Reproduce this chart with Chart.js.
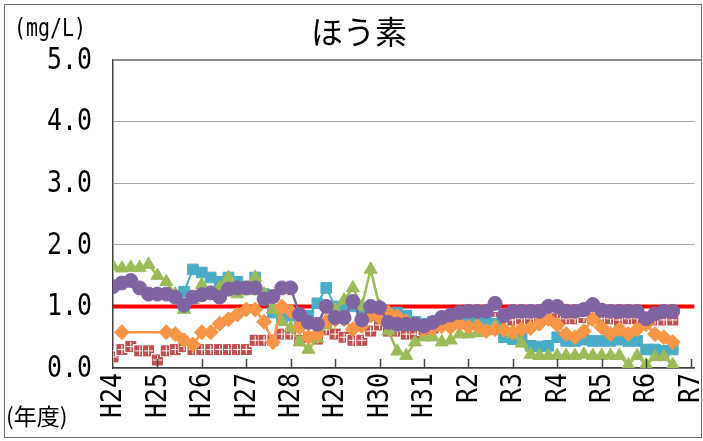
<!DOCTYPE html>
<html><head><meta charset="utf-8">
<script src="https://cdn.jsdelivr.net/npm/chart.js@4.4.1/dist/chart.umd.min.js"></script>
<style>html,body{margin:0;padding:0;background:#fff;}canvas{display:block;}</style>
</head><body>
<canvas id="c" width="703" height="441"></canvas>
<script>
// ---- data ----
const titleText = 'ほう素';
const unitText = '(mg/L)';
const xAxisTitle = '(年度)';
const yearLabels = ['H24','H25','H26','H27','H28','H29','H30','H31','R2','R3','R4','R5','R6','R7'];
const yTickLabels = ['0.0','1.0','2.0','3.0','4.0','5.0'];
const standardValue = 1.0;
const xMin = 0, xMax = 13.09, yMin = 0, yMax = 5;

// sampling times (years since start of H24)
const t = [0,0.2,0.4,0.6,0.8,1.0,1.2,1.4,1.6,1.8,2.0,2.2,2.4,2.6,2.8,3.0,3.2,3.4,3.6,3.8,
           4.0,4.2,4.4,4.6,4.8,5.0,5.2,5.4,5.6,5.8,6.0,6.2,6.4,6.6,6.8,7.0,7.2,7.4,7.6,7.8,
           8.0,8.2,8.4,8.6,8.8,9.0,9.2,9.4,9.6,9.8,10.0,10.2,10.4,10.6,10.8,11.0,11.2,11.4,11.6,11.8,
           12.0,12.2,12.4,12.6];

const seriesRed = [0.18,0.30,0.35,0.28,0.28,0.13,0.28,0.30,0.35,0.30,0.30,0.30,0.30,0.30,0.30,0.30,0.45,0.45,0.45,0.55,
                   0.55,0.45,0.50,0.47,0.62,0.55,0.50,0.45,0.45,0.60,0.70,0.60,0.60,0.55,0.55,0.62,0.65,0.72,0.75,0.80,
                   0.85,0.85,0.85,0.82,0.80,0.78,0.80,0.80,0.80,0.80,0.80,0.80,0.80,0.82,0.80,0.80,0.80,0.78,0.80,0.80,
                   0.75,0.78,0.78,0.78];
const seriesCyan = [null,null,null,null,null,null,null,null,1.24,1.60,1.55,1.47,1.40,1.47,1.40,1.32,1.47,1.20,0.90,0.80,
                    0.85,0.75,0.85,1.05,1.30,1.00,0.95,1.00,0.90,0.95,0.85,0.85,0.90,0.85,0.75,0.72,0.75,0.78,0.80,0.80,
                    0.78,0.78,0.79,0.72,0.50,0.47,0.50,0.36,0.35,0.36,0.50,0.44,0.44,0.46,0.44,0.44,0.44,0.46,0.44,0.44,
                    0.30,0.30,0.28,0.30];
const seriesGreen = [1.65,1.62,1.63,1.63,1.68,1.50,1.40,1.20,0.95,1.10,1.35,1.20,1.30,1.47,1.20,1.25,1.47,1.20,0.95,0.75,
                     0.65,0.42,0.30,0.48,0.70,0.95,1.10,1.30,1.00,1.60,1.00,0.60,0.27,0.20,0.42,0.50,0.50,0.42,0.45,0.55,
                     0.55,0.57,0.60,0.68,0.63,0.55,0.40,0.22,0.20,0.20,0.20,0.20,0.20,0.22,0.20,0.20,0.20,0.20,0.05,0.20,
                     0.05,0.18,0.18,0.05];
const seriesOrange = [null,0.58,null,null,null,null,0.58,0.55,0.45,0.38,0.58,0.58,0.72,0.79,0.87,0.95,0.95,0.75,0.42,1.00,
                      0.92,0.66,0.50,0.55,0.76,0.78,0.79,0.63,0.68,0.85,0.82,0.90,0.84,0.76,0.70,0.63,0.65,0.68,0.66,0.72,
                      0.67,0.68,0.60,0.63,0.62,0.58,0.63,0.65,0.72,0.80,0.70,0.55,0.50,0.60,0.79,0.66,0.55,0.63,0.55,0.63,
                      0.71,0.55,0.50,0.42];
const seriesPurple = [1.32,1.38,1.42,1.30,1.20,1.20,1.20,1.15,1.02,1.15,1.19,1.22,1.15,1.28,1.30,1.30,1.30,1.12,1.16,1.30,
                      1.30,0.87,0.74,0.71,1.00,0.82,0.82,1.08,0.78,1.00,0.98,0.74,0.71,0.71,0.71,0.68,0.74,0.82,0.86,0.90,
                      0.92,0.92,0.92,1.05,0.85,0.92,0.92,0.92,0.92,1.00,1.00,0.92,0.92,0.95,1.03,0.94,0.92,0.92,0.92,0.92,
                      0.80,0.88,0.92,0.92];

// ---- helpers ----
function pts(vals){ return t.map((x,i)=> vals[i]==null ? null : {x:x, y:vals[i]}).filter(p=>p); }
function makeRedMarker(){
  const c=document.createElement('canvas'); c.width=13; c.height=13;
  const g=c.getContext('2d');
  g.fillStyle='#ffffff'; g.fillRect(0,0,13,13);
  g.fillStyle='#C0504D'; g.fillRect(1,1,11,11);
  g.fillStyle='#ffffff'; g.fillRect(6,2,1,9); g.fillRect(2,6,9,1);
  return c;
}
function ds(label, vals, color, style, radius, order, width){
  return {label, data:pts(vals), borderColor:color, backgroundColor:color, borderWidth:width,
    pointStyle:style, pointRadius:radius, pointBorderColor:color, pointBackgroundColor:color,
    pointBorderWidth:1, tension:0, order:order, spanGaps:true};
}

const deco = {
  id:'deco',
  afterDraw(chart){
    const ctx=chart.ctx, xs=chart.scales.x, ys=chart.scales.y, a=chart.chartArea;
    ctx.save();
    // plot area top border
    ctx.strokeStyle='#8c8c8c'; ctx.lineWidth=2;
    ctx.beginPath(); ctx.moveTo(a.left, a.top); ctx.lineTo(701, a.top); ctx.stroke();
    // inward tick marks
    ctx.strokeStyle='#404040'; ctx.lineWidth=1.5;
    for(let k=1;k<yearLabels.length;k++){
      const px=Math.round(xs.getPixelForValue(k))+0.5;
      ctx.beginPath(); ctx.moveTo(px,a.bottom); ctx.lineTo(px,a.bottom-9); ctx.stroke();
    }
    ctx.fillStyle='#000';
    // y tick labels
    ctx.font='30px "DejaVu Sans Mono"'; ctx.textAlign='right'; ctx.textBaseline='middle';
    yTickLabels.forEach((lab,i)=>{
      const py=ys.getPixelForValue(i);
      ctx.save(); ctx.translate(92,py+1); ctx.scale(0.83,1); ctx.fillText(lab,0,0); ctx.restore();
    });
    // x tick labels (rotated)
    ctx.font='28px "DejaVu Sans Mono"';
    yearLabels.forEach((lab,k)=>{
      const px=xs.getPixelForValue(k);
      ctx.save(); ctx.translate(px+1,373); ctx.rotate(-Math.PI/2); ctx.scale(0.89,1);
      ctx.textAlign='right'; ctx.textBaseline='middle'; ctx.fillText(lab,0,0); ctx.restore();
    });
    // unit
    ctx.font='24px "DejaVu Sans Mono"'; ctx.textAlign='left'; ctx.textBaseline='middle';
    ctx.save(); ctx.translate(14,30); ctx.scale(0.83,1); ctx.fillText(unitText,0,0); ctx.restore();
    // x axis title
    ctx.font='23px "Noto Sans CJK JP"'; ctx.textAlign='left'; ctx.textBaseline='middle';
    ctx.fillText(xAxisTitle,6,416);
    // title
    ctx.font='32px "Noto Sans CJK JP"'; ctx.textAlign='center'; ctx.textBaseline='middle';
    ctx.fillText(titleText,359,32);
    // frame
    ctx.strokeStyle='#6e6e6e'; ctx.lineWidth=1;
    ctx.strokeRect(4.5,4.5,697,433);
    ctx.restore();
  }
};

new Chart(document.getElementById('c'), {
  type:'line',
  data:{datasets:[
    ds('purple', seriesPurple, '#8064A2', 'circle', 7, 0, 2.5),
    ds('orange', seriesOrange, '#F79646', 'rectRot', 7.5, 1, 2.5),
    ds('green', seriesGreen, '#9BBB59', 'triangle', 7.5, 2, 2.5),
    ds('cyan', seriesCyan, '#4BACC6', 'rect', 7.5, 3, 2),
    Object.assign(ds('red', seriesRed, '#C0504D', makeRedMarker(), 6.5, 4, 2), {pointBorderWidth:0}),
    {label:'standard', data:[{x:xMin,y:standardValue},{x:xMax,y:standardValue}], borderColor:'#FF0000',
     borderWidth:4, pointRadius:0, order:5}
  ]},
  options:{
    responsive:false, animation:false, devicePixelRatio:1,
    layout:{padding:{left:0,right:2,top:60,bottom:0}},
    plugins:{legend:{display:false}, tooltip:{enabled:false}, title:{display:false}},
    scales:{
      x:{type:'linear', min:xMin, max:xMax, ticks:{display:false},
         grid:{display:false, drawTicks:false}, border:{display:true,color:'#404040',width:1.5},
         afterFit(s){ s.height=73; }},
      y:{min:yMin, max:yMax, ticks:{display:false, stepSize:1},
         grid:{color:'#a6a6a6', lineWidth:1, drawTicks:false}, border:{display:true,color:'#404040',width:1.5},
         afterFit(s){ s.width=113; }}
    }
  },
  plugins:[deco]
});
</script>
</body></html>
